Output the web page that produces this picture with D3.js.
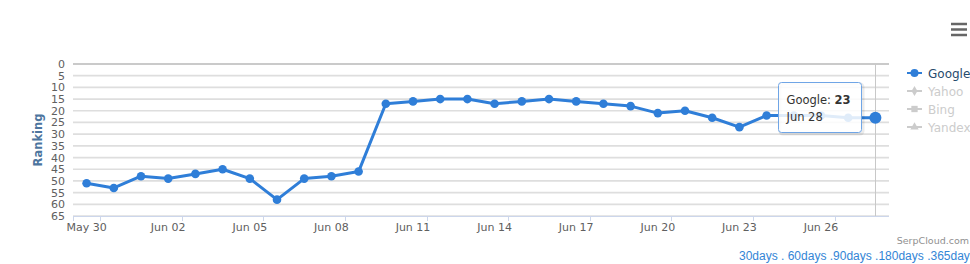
<!DOCTYPE html>
<html>
<head>
<meta charset="utf-8">
<script src="https://cdn.jsdelivr.net/npm/d3@7"></script>
<style>
  body { margin: 0; background: #fff; }
  svg { display: block; font-family: "DejaVu Sans", Verdana, sans-serif; }
</style>
</head>
<body>
<div id="chart"></div>
<script>
// donnees
const dates = ["May 30","May 31","Jun 01","Jun 02","Jun 03","Jun 04","Jun 05","Jun 06","Jun 07","Jun 08",
               "Jun 09","Jun 10","Jun 11","Jun 12","Jun 13","Jun 14","Jun 15","Jun 16","Jun 17","Jun 18",
               "Jun 19","Jun 20","Jun 21","Jun 22","Jun 23","Jun 24","Jun 25","Jun 26","Jun 27","Jun 28"];
const google = [51,53,48,49,47,45,49,58,49,48,46,17,16,15,15,17,16,15,16,17,18,21,20,23,27,22,22,22,23,23];
const yTicks = [0,5,10,15,20,25,30,35,40,45,50,55,60,65];
const legendItems = ["Google","Yahoo","Bing","Yandex"];
const periods = "30days . 60days .90days .180days .365days";

const W = 970, H = 264;
const plot = {left: 73, right: 889, top: 64, bottom: 216};
const blue = "#2f7ed8";

const svg = d3.select("#chart").append("svg")
  .attr("width", W).attr("height", H);

// echelles
const x = d3.scaleLinear().domain([-0.5, dates.length - 0.5]).range([plot.left, plot.right]);
const y = d3.scaleLinear().domain([0, 65]).range([plot.top, plot.bottom]); // axe inverse

// grille
svg.append("g").selectAll("line")
  .data(yTicks)
  .join("line")
    .attr("x1", plot.left).attr("x2", plot.right)
    .attr("y1", d => y(d)).attr("y2", d => y(d))
    .attr("stroke", d => d === 0 ? "#b8b8b8" : "#dedede")
    .attr("stroke-width", 1.7);

// labels axe Y
svg.append("g").selectAll("text")
  .data(yTicks)
  .join("text")
    .attr("x", 65).attr("y", d => y(d) + 4)
    .attr("text-anchor", "end")
    .attr("font-size", 11).attr("fill", "#606060")
    .text(d => d);

svg.append("text")
  .attr("transform", `translate(42,${(plot.top + plot.bottom) / 2}) rotate(-90)`)
  .attr("text-anchor", "middle")
  .attr("font-size", 11.5).attr("font-weight", "bold").attr("fill", "#4d759e")
  .text("Ranking");

// axe X
const labelIdx = d3.range(0, dates.length, 3);
const xAxis = svg.append("g");
xAxis.append("line")
  .attr("x1", plot.left).attr("x2", plot.right)
  .attr("y1", plot.bottom + 0.5).attr("y2", plot.bottom + 0.5)
  .attr("stroke", "#ccd6eb");
xAxis.selectAll("line.tick")
  .data([-1].concat(labelIdx))
  .join("line").attr("class", "tick")
    .attr("x1", d => Math.round(x(d + 0.5)) + 0.5).attr("x2", d => Math.round(x(d + 0.5)) + 0.5)
    .attr("y1", plot.bottom).attr("y2", plot.bottom + 5)
    .attr("stroke", "#ccd6eb");
xAxis.selectAll("text")
  .data(labelIdx)
  .join("text")
    .attr("x", d => x(d)).attr("y", 231)
    .attr("text-anchor", "middle")
    .attr("font-size", 11).attr("fill", "#606060")
    .text(d => dates[d]);

// crosshair
const last = dates.length - 1;
svg.append("line")
  .attr("x1", Math.round(x(last)) + 0.5).attr("x2", Math.round(x(last)) + 0.5)
  .attr("y1", plot.top).attr("y2", plot.bottom)
  .attr("stroke", "#c8c8c8");

// serie
const line = d3.line().x((d, i) => x(i)).y(d => y(d));
svg.append("path")
  .datum(google)
  .attr("d", line)
  .attr("fill", "none").attr("stroke", blue)
  .attr("stroke-width", 3).attr("stroke-linejoin", "round");

svg.append("g").selectAll("circle")
  .data(google)
  .join("circle")
    .attr("cx", (d, i) => x(i)).attr("cy", d => y(d))
    .attr("r", (d, i) => i === last ? 6 : 4.3)
    .attr("fill", blue);

// tooltip
const tip = svg.append("g").attr("transform", "translate(778.5,82.5)");
tip.append("rect")
  .attr("x", 1.5).attr("y", 1.5).attr("width", 83).attr("height", 50).attr("rx", 3)
  .attr("fill", "none").attr("stroke", "rgba(0,0,0,0.08)").attr("stroke-width", 3);
tip.append("rect")
  .attr("width", 83).attr("height", 50).attr("rx", 3)
  .attr("fill", "rgba(255,255,255,0.85)").attr("stroke", "#6fa5e6");
const t1 = tip.append("text").attr("x", 8).attr("y", 21).attr("font-size", 11.5).attr("fill", "#333");
t1.append("tspan").text("Google: ");
t1.append("tspan").attr("font-weight", "bold").text(google[last]);
tip.append("text").attr("x", 8).attr("y", 38).attr("font-size", 11.5).attr("fill", "#333")
  .text(dates[last]);

// legende
const leg = svg.append("g").selectAll("g")
  .data(legendItems)
  .join("g")
    .attr("transform", (d, i) => `translate(907,${73 + i * 18})`);
leg.append("line")
  .attr("x1", 0).attr("x2", 15).attr("y1", 0).attr("y2", 0)
  .attr("stroke", (d, i) => i === 0 ? blue : "#cccccc").attr("stroke-width", 2);
leg.append("path")
  .attr("transform", "translate(7.5,0)")
  .attr("d", (d, i) => d3.symbol().type([d3.symbolCircle, d3.symbolDiamond, d3.symbolSquare, d3.symbolTriangle][i])
                                   .size([50, 30, 40, 30][i])())
  .attr("fill", (d, i) => i === 0 ? blue : "#cccccc");
leg.append("text")
  .attr("x", 21).attr("y", 4.5)
  .attr("font-size", 12)
  .attr("fill", (d, i) => i === 0 ? "#274b6d" : "#cccccc")
  .text(d => d);

// menu
svg.append("g").selectAll("line")
  .data([24, 29.5, 35])
  .join("line")
    .attr("x1", 951).attr("x2", 967).attr("y1", d => d).attr("y2", d => d)
    .attr("stroke", "#666").attr("stroke-width", 2.5);

// credits + liens
svg.append("text")
  .attr("x", 969).attr("y", 244)
  .attr("text-anchor", "end").attr("font-size", 9.5).attr("fill", "#909090")
  .text("SerpCloud.com");
svg.append("text")
  .attr("x", 739).attr("y", 260)
  .attr("font-family", "'Liberation Sans', Arial, sans-serif")
  .attr("font-size", 12).attr("fill", "#3385d6")
  .text(periods);
</script>
</body>
</html>
